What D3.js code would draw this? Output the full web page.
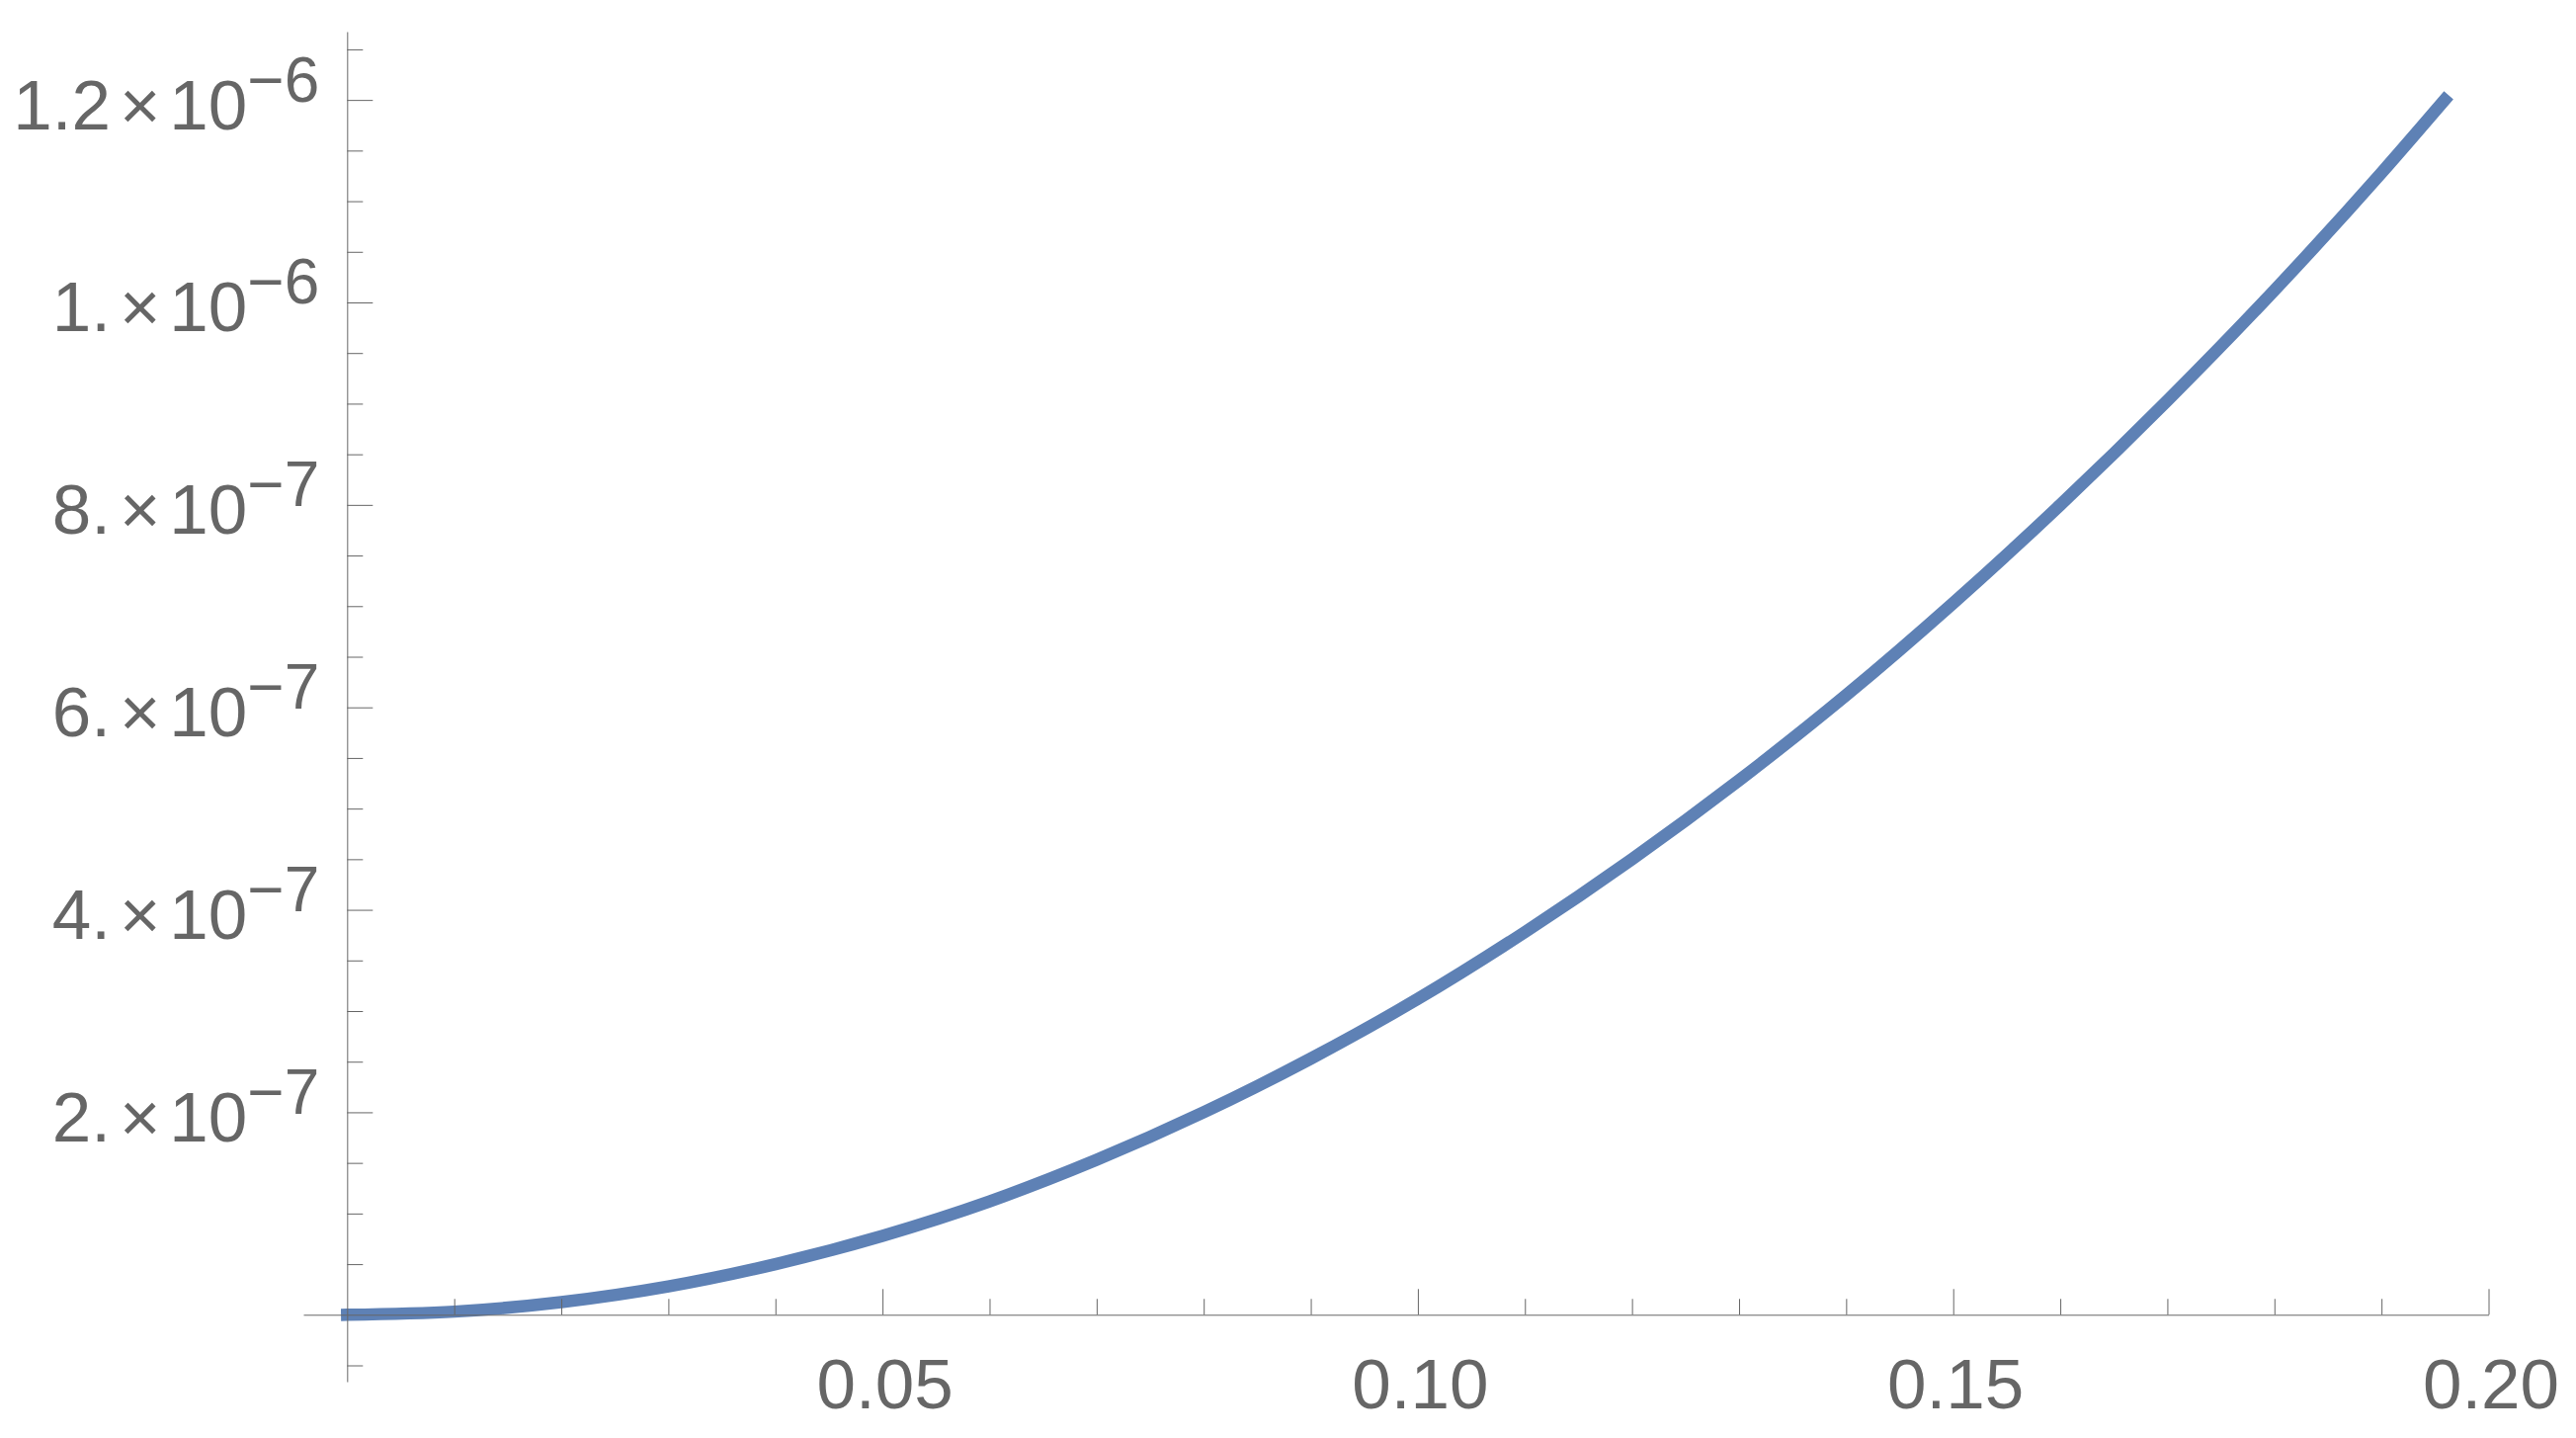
<!DOCTYPE html>
<html>
<head>
<meta charset="utf-8">
<script src="https://cdn.jsdelivr.net/npm/d3@7"></script>
<style>
  body { margin: 0; background: #fff; }
  svg text { font-family: "Liberation Sans", Arial, Helvetica, sans-serif; fill: #666; font-size: 71px; }
</style>
</head>
<body>
<div id="chart"></div>
<script>
// values
const xValues = [0, 0.01, 0.02, 0.03, 0.04, 0.05, 0.06, 0.07, 0.08, 0.09, 0.10,
  0.11, 0.12, 0.13, 0.14, 0.15, 0.16, 0.17, 0.18, 0.19, 0.1959];
const yValues = [0, 3.1e-9, 1.25e-8, 2.8e-8, 5.0e-8, 7.8e-8, 1.12e-7, 1.53e-7, 2.0e-7, 2.53e-7, 3.12e-7,
  3.78e-7, 4.5e-7, 5.28e-7, 6.12e-7, 7.03e-7, 8.0e-7, 9.03e-7, 1.012e-6, 1.128e-6, 1.2e-6];

const xMajorTicks = [0.05, 0.10, 0.15, 0.20];
const xTickLabels = ["0.05", "0.10", "0.15", "0.20"];
const xMinorTicks = [0.01, 0.02, 0.03, 0.04, 0.06, 0.07, 0.08, 0.09, 0.11, 0.12, 0.13, 0.14,
  0.16, 0.17, 0.18, 0.19];

const yMajorTicks = [2e-7, 4e-7, 6e-7, 8e-7, 1e-6, 1.2e-6];
const yTickMantissas = ["2.", "4.", "6.", "8.", "1.", "1.2"];
const yTickExponents = ["\u22127", "\u22127", "\u22127", "\u22127", "\u22126", "\u22126"];
const yMinorTicks = [-5e-8, 5e-8, 1e-7, 1.5e-7, 2.5e-7, 3e-7, 3.5e-7, 4.5e-7, 5e-7, 5.5e-7,
  6.5e-7, 7e-7, 7.5e-7, 8.5e-7, 9e-7, 9.5e-7, 1.05e-6, 1.1e-6, 1.15e-6, 1.25e-6];

const width = 2607, height = 1455;
const axisColor = "#666";

const svg = d3.select("#chart")
  .append("svg")
  .attr("width", width)
  .attr("height", height);

// plot range (axes run a bit past the origin, like Mathematica does)
const x = d3.scaleLinear().domain([-0.00409, 0.2]).range([307, 2518.5]);
const y = d3.scaleLinear().domain([-6.61e-8, 1.2675e-6]).range([1398, 32]);

const data = xValues.map((v, i) => [v, yValues[i]]);

const line = d3.line()
  .x((d) => x(d[0]))
  .y((d) => y(d[1]))
  .curve(d3.curveMonotoneX);

svg.append("path")
  .datum(data)
  .attr("fill", "none")
  .attr("stroke", "#5E81B5")
  .attr("stroke-width", 12.5)
  .attr("stroke-linecap", "square")
  .attr("stroke-linejoin", "round")
  .attr("d", line);

// x axis
const xAxisG = svg.append("g")
  .attr("transform", `translate(0,${y(0)})`)
  .attr("color", axisColor);

xAxisG.append("g")
  .call(d3.axisBottom(x).tickValues(xMinorTicks).tickSize(-16).tickSizeOuter(0).tickFormat(""))
  .call((g) => g.select(".domain").remove());

xAxisG.append("g")
  .call(d3.axisBottom(x).tickValues(xMajorTicks).tickSize(-26).tickSizeOuter(0)
    .tickPadding(44).tickFormat((d, i) => xTickLabels[i]))
  .call((g) => g.selectAll(".tick text").attr("dx", 2));

// y axis
const yAxisG = svg.append("g")
  .attr("transform", `translate(${x(0)},0)`)
  .attr("color", axisColor);

yAxisG.append("g")
  .call(d3.axisLeft(y).tickValues(yMinorTicks).tickSize(-16).tickSizeOuter(0).tickFormat(""))
  .call((g) => g.select(".domain").remove());

yAxisG.append("g")
  .call(d3.axisLeft(y).tickValues(yMajorTicks).tickSize(-26).tickSizeOuter(0)
    .tickPadding(28).tickFormat(""))
  .call((g) => g.selectAll(".tick text").each(function (d, i) {
    const t = d3.select(this).attr("dy", null).attr("y", 29);
    t.append("tspan").text(yTickMantissas[i]);
    t.append("tspan").attr("dx", 9).text("\u00d7");
    t.append("tspan").attr("dx", 9).text("10");
    t.append("tspan").attr("font-size", 64).attr("dy", -28).text(yTickExponents[i]);
  }));
</script>
</body>
</html>
